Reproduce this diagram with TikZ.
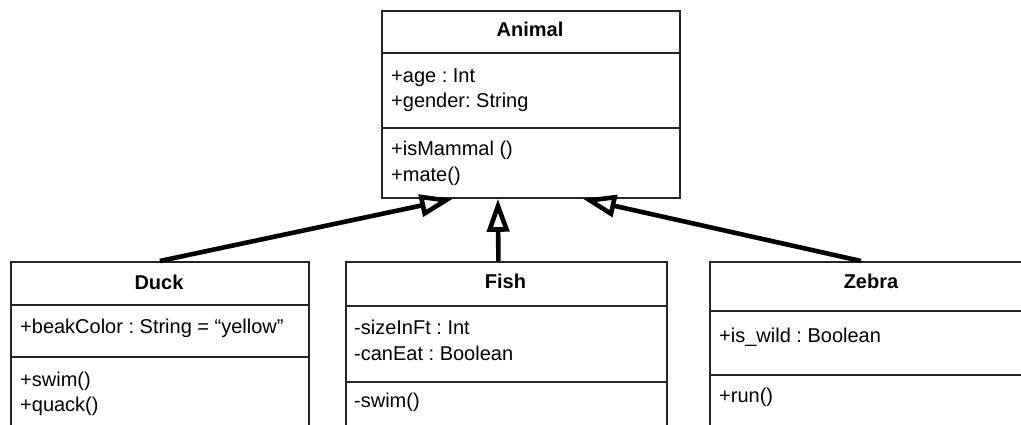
\documentclass[tikz,border=0pt]{standalone}
\usepackage{fontspec}
\setmainfont{Liberation Sans}
\usetikzlibrary{arrows.meta}
\frenchspacing
\begin{document}
\begin{tikzpicture}[x=1pt,y=-1pt,
  umlbox/.style={draw=black!85, line width=1.8pt, inner sep=0pt, anchor=north west},
  compart/.style={draw=black!85, line width=1.8pt},
  title/.style={font=\fontsize{20pt}{25pt}\selectfont\bfseries, anchor=base, inner sep=0pt},
  member/.style={font=\fontsize{20pt}{25pt}\selectfont, anchor=base west, inner sep=0pt},
  inherit/.style={line width=4.6pt, -{Triangle[open, length=33pt, width=22pt]}}]
\useasboundingbox (0,0) rectangle (1021,425);
\clip (0,0) rectangle (1021,425);
\fill[white] (0,0) rectangle (1021,425);

% class frames
\node[umlbox, minimum width=298pt, minimum height=187pt] (animal) at (381,10) {};
\node[umlbox, minimum width=298pt, minimum height=200pt] (duck) at (10,261) {};
\node[umlbox, minimum width=321pt, minimum height=200pt] (fish) at (345,261) {};
\node[umlbox, minimum width=324pt, minimum height=200pt] (zebra) at (709,261) {};

% compartment separators
\draw[compart] ([yshift=-43pt]animal.north west) -- ([yshift=-43pt]animal.north east);
\draw[compart] ([yshift=-118pt]animal.north west) -- ([yshift=-118pt]animal.north east);
\draw[compart] ([yshift=-44pt]duck.north west) -- ([yshift=-44pt]duck.north east);
\draw[compart] ([yshift=-96pt]duck.north west) -- ([yshift=-96pt]duck.north east);
\draw[compart] ([yshift=-45pt]fish.north west) -- ([yshift=-45pt]fish.north east);
\draw[compart] ([yshift=-121pt]fish.north west) -- ([yshift=-121pt]fish.north east);
\draw[compart] ([yshift=-50pt]zebra.north west) -- ([yshift=-50pt]zebra.north east);
\draw[compart] ([yshift=-114pt]zebra.north west) -- ([yshift=-114pt]zebra.north east);

% Animal
\node[title] (animalname) at (530,37) {Animal};
\node[member] (animala1) at (391,83) {+age : Int};
\node[member] (animala2) at (391,108) {+gender: String};
\node[member] (animalm1) at (391,156) {+isMammal ()};
\node[member] (animalm2) at (391,182) {+mate()};

% Duck
\node[title] (duckname) at (159,289) {Duck};
\node[member] (ducka1) at (20,333) {+beakColor : String = “yellow”};
\node[member] (duckm1) at (20,386) {+swim()};
\node[member] (duckm2) at (20,411) {+quack()};

% Fish
\node[title] (fishname) at (505.5,288) {Fish};
\node[member] (fisha1) at (354,334) {-sizeInFt : Int};
\node[member] (fisha2) at (354,360) {-canEat : Boolean};
\node[member] (fishm1) at (354,407) {-swim()};

% Zebra
\node[title] (zebraname) at (871,288) {Zebra};
\node[member] (zebraa1) at (719,342) {+is\_wild : Boolean};
\node[member] (zebram1) at (719,402) {+run()};

% generalisations
\draw[inherit] (duck.north) -- ([xshift=-78pt]animal.south);
\draw[inherit] ([xshift=-8pt]fish.north) -- ([xshift=-33pt]animal.south);
\draw[inherit] ([xshift=-11pt]zebra.north) -- ([xshift=52pt]animal.south);
\end{tikzpicture}
\end{document}
